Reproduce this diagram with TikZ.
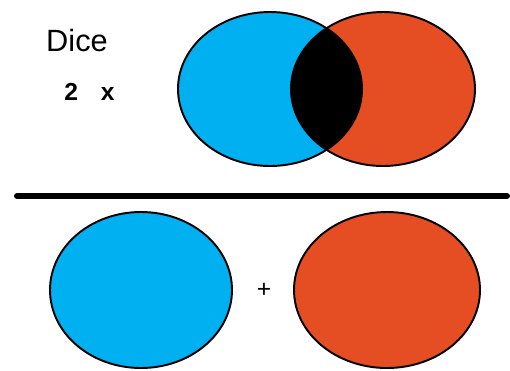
\documentclass[tikz,border=0pt]{standalone}
\usepackage{fontspec}
\setmainfont{Liberation Sans}
\definecolor{diceblue}{RGB}{0,176,240}
\definecolor{dicered}{RGB}{229,77,35}
\usetikzlibrary{positioning}

\tikzset{
  dieedge/.style={draw=black, line width=1.1pt}
}

\begin{document}
\begin{tikzpicture}[x=0.02cm, y=-0.02cm]

  \useasboundingbox (0,0) rectangle (510,370);

  %% Labels
  \node[font=\fontsize{17.5}{20}\selectfont] (dice) at (77,41) {Dice};
  \node[font=\fontsize{14}{16}\selectfont\bfseries] (count) at (89.5,92)
    {2\hspace{13pt}x};

  %% Overlapping pair
  \fill[diceblue] (270,89) ellipse [x radius=92, y radius=77];
  \fill[dicered] (383,89) ellipse [x radius=92, y radius=77];
  \begin{scope}
    \clip (270,89) ellipse [x radius=92, y radius=77];
    \fill[black] (383,89) ellipse [x radius=92, y radius=77];
  \end{scope}
  \draw[dieedge] (270,89) ellipse [x radius=92, y radius=77];
  \draw[dieedge] (383,89) ellipse [x radius=92, y radius=77];

  %% Fraction bar
  \draw[line width=3.4pt, line cap=round] (17,196) -- (507,196);

  %% Separate pair
  \fill[diceblue, dieedge] (141,290) ellipse [x radius=91, y radius=78];
  \node[font=\fontsize{14}{16}\selectfont] (plus) at (264,290) {+};
  \fill[dicered, dieedge] (387,290) ellipse [x radius=93, y radius=78];

\end{tikzpicture}
\end{document}
